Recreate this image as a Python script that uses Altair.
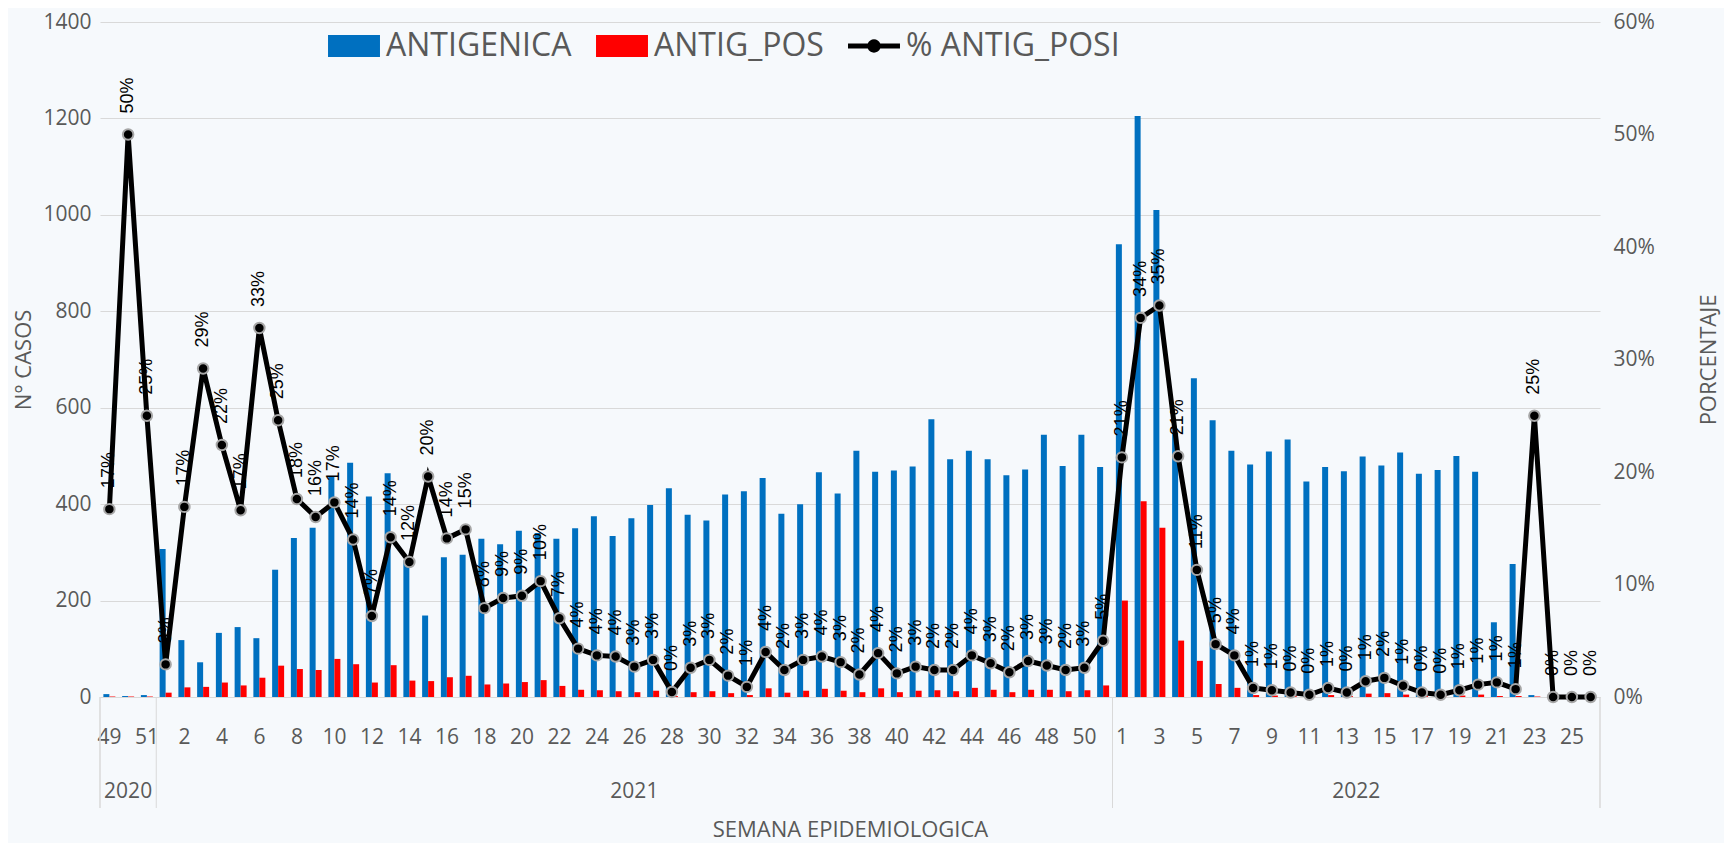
import altair as alt
import pandas as pd

# ---------------- data ----------------
WEEKS_2020 = [49, 50, 51]
WEEKS_2021 = [1, 2, 3, 4, 5, 6, 7, 8, 9, 10, 11, 12, 13, 14, 15, 16, 17, 18, 19, 20,
              21, 22, 23, 24, 25, 26, 27, 28, 29, 30, 31, 32, 33, 34, 35, 36, 37, 38, 39, 40,
              41, 42, 43, 44, 45, 46, 47, 48, 49, 50, 51]
WEEKS_2022 = [1, 2, 3, 4, 5, 6, 7, 8, 9, 10, 11, 12, 13, 14, 15, 16, 17, 18, 19, 20,
              21, 22, 23, 24, 25, 26]
YEARS = ["2020", "2021", "2022"]

ANTIGENICA = [6, 2, 4,
              307, 118, 72, 133, 145, 122, 264, 330, 351, 457,
              486, 416, 464, 283, 169, 290, 295, 328, 317, 345,
              340, 328, 350, 375, 334, 371, 398, 433, 378, 366,
              420, 427, 454, 380, 400, 466, 422, 511, 467, 470,
              478, 576, 493, 511, 493, 460, 472, 544, 479, 544,
              477,
              939, 1205, 1010, 548, 661, 574, 511, 482, 509, 534,
              447, 477, 468, 499, 480, 507, 463, 471, 500, 467,
              155, 276, 4, 0, 0, 0]

ANTIG_POS = [1, 1, 1,
             9, 20, 21, 30, 24, 40, 65, 58, 56, 79,
             68, 30, 66, 34, 33, 41, 44, 26, 28, 31,
             35, 23, 15, 14, 12, 10, 13, 2, 10, 12,
             8, 4, 18, 9, 13, 17, 13, 10, 18, 10,
             13, 14, 12, 19, 15, 10, 15, 15, 12, 14,
             24,
             200, 406, 351, 117, 75, 27, 19, 4, 3, 2,
             1, 4, 2, 7, 8, 5, 2, 1, 3, 5,
             2, 2, 1, 0, 0, 0]

PCT_ANTIG_POSI = [16.7, 50.0, 25.0,
                  2.9, 16.9, 29.2, 22.4, 16.6, 32.8, 24.6, 17.6, 16.0, 17.3,
                  14.0, 7.2, 14.2, 12.0, 19.6, 14.1, 14.9, 7.9, 8.8, 9.0,
                  10.3, 7.0, 4.3, 3.7, 3.6, 2.7, 3.3, 0.45, 2.6, 3.3,
                  1.9, 0.9, 4.0, 2.4, 3.3, 3.6, 3.1, 2.0, 3.9, 2.1,
                  2.7, 2.4, 2.4, 3.7, 3.0, 2.2, 3.2, 2.8, 2.4, 2.6,
                  5.0,
                  21.3, 33.7, 34.8, 21.4, 11.3, 4.7, 3.7, 0.8, 0.6, 0.4,
                  0.2, 0.8, 0.4, 1.4, 1.7, 1.0, 0.4, 0.2, 0.6, 1.1,
                  1.3, 0.7, 25.0, 0.0, 0.0, 0.0]

SERIES = ["ANTIGENICA", "ANTIG_POS", "% ANTIG_POSI"]
COLORS = ["#0070C0", "#FF0000", "#000000"]

# ---------------- tables ----------------
cats = []
for yr, wks in zip(YEARS, [WEEKS_2020, WEEKS_2021, WEEKS_2022]):
    for w in wks:
        cats.append(f"{yr}|{w}")
n = len(cats)

bars_df = pd.DataFrame({
    "cat": cats + cats,
    "serie": [SERIES[0]] * n + [SERIES[1]] * n,
    "value": ANTIGENICA + ANTIG_POS,
})
line_df = pd.DataFrame({"cat": cats, "pct": [p / 100 for p in PCT_ANTIG_POSI]})

year_mid_df = pd.DataFrame({"cat": [f"2020|{WEEKS_2020[1]}", f"2021|{WEEKS_2021[25]}"],
                            "year": ["2020", "2021"]})
year_edge_df = pd.DataFrame({"cat": [f"2022|{WEEKS_2022[13]}"], "year": ["2022"]})
sep_df = pd.DataFrame({"cat": [f"2021|{WEEKS_2021[0]}", f"2022|{WEEKS_2022[0]}"]})
legend_df = pd.DataFrame({"serie": SERIES})

# ---------------- layout ----------------
W, H = 1500, 675
GRAY = "#595959"
FONT = "Open Sans"
P_IN, P_OUT = 0.36, 0.18
STEP = W / (n - P_IN + 2 * P_OUT)
HALF_GAP = STEP * P_IN / 2

x_scale = alt.Scale(domain=cats, paddingInner=P_IN, paddingOuter=P_OUT)
x_axis = alt.Axis(values=cats[::2], labelExpr="split(datum.value, '|')[1]",
                  labelAngle=0, ticks=False, grid=False, domain=True,
                  domainColor="#D9D9D9", domainWidth=1, labelFont=FONT,
                  labelFontSize=21, labelColor=GRAY, labelPadding=29,
                  labelOverlap=False, labelBaseline="top", labelAlign="center",
                  title="SEMANA EPIDEMIOLOGICA", titleFont=FONT, titleFontSize=22,
                  titleFontWeight="normal", titleColor=GRAY, titleY=132,
                  titleX=W / 2, titleAlign="center", titleBaseline="middle")


def xenc(**kw):
    return alt.X("cat:N", scale=x_scale, axis=x_axis, **kw)


color_scale = alt.Scale(domain=SERIES, range=COLORS)
RECT = "M-1,-0.42H1V0.42H-1Z"
LINEDOT = "M-1,-0.1H-0.24A0.26,0.26,0,0,1,0.24,-0.1H1V0.1H0.24A0.26,0.26,0,0,1,-0.24,0.1H-1Z"
shape_scale = alt.Scale(domain=SERIES, range=[RECT, RECT, LINEDOT])


def make_legend():
    return alt.Legend(title=None, orient="none", legendX=228, legendY=-2,
                      direction="horizontal", symbolSize=2700, symbolOpacity=1,
                      symbolStrokeWidth=0, labelFont=FONT, labelFontSize=32,
                      labelColor=GRAY, labelOffset=6, columnPadding=24,
                      labelLimit=500, padding=0)


bars = alt.Chart(bars_df).mark_bar().encode(
    x=xenc(),
    xOffset=alt.XOffset("serie:N", sort=SERIES[:2],
                        scale=alt.Scale(paddingInner=0, paddingOuter=0)),
    y=alt.Y("value:Q",
            scale=alt.Scale(domain=[0, 1400], nice=False),
            axis=alt.Axis(values=[0, 200, 400, 600, 800, 1000, 1200, 1400],
                          format="d", grid=True, gridColor="#D9D9D9", domain=False,
                          ticks=False, labelFont=FONT, labelFontSize=21,
                          labelColor=GRAY, labelPadding=9, title="N° CASOS",
                          titleFont=FONT, titleFontSize=22, titleFontWeight="normal",
                          titleColor=GRAY, titleAngle=270, titleX=-77, titleY=H / 2,
                          titleAlign="center", titleBaseline="middle")),
    color=alt.Color("serie:N", scale=color_scale, legend=make_legend()),
)

seps = alt.Chart(sep_df).mark_rule(color="#D9D9D9", strokeWidth=1).encode(
    x=xenc(bandPosition=0), xOffset=alt.value(-HALF_GAP),
    y=alt.value(H), y2=alt.value(H + 111))
frame = alt.Chart(sep_df).mark_rule(color="#D9D9D9", strokeWidth=1).encode(
    x=alt.value(0), y=alt.value(H), y2=alt.value(H + 111))
frame2 = alt.Chart(sep_df).mark_rule(color="#D9D9D9", strokeWidth=1).encode(
    x=alt.value(W), y=alt.value(H), y2=alt.value(H + 111))

year_txt = alt.Chart(year_mid_df).mark_text(font=FONT, fontSize=21, color=GRAY,
                                             baseline="middle", align="center").encode(
    x=xenc(), y=alt.value(H + 95), text="year:N")
year_txt2 = alt.Chart(year_edge_df).mark_text(font=FONT, fontSize=21, color=GRAY,
                                               baseline="middle", align="center",
                                               dx=-HALF_GAP).encode(
    x=xenc(bandPosition=0), y=alt.value(H + 95), text="year:N")

Yp = alt.Y("pct:Q", scale=alt.Scale(domain=[0, 0.6], nice=False),
           axis=alt.Axis(orient="right", values=[0, 0.1, 0.2, 0.3, 0.4, 0.5, 0.6],
                         format=".0%", grid=False, domain=False, ticks=False,
                         labelFont=FONT, labelFontSize=21, labelColor=GRAY,
                         labelPadding=13, title="PORCENTAJE", titleFont=FONT,
                         titleFontSize=22, titleFontWeight="normal", titleColor=GRAY,
                         titleAngle=270, titleX=108, titleY=H / 2,
                         titleAlign="center", titleBaseline="middle"))

line = alt.Chart(line_df).mark_line(color="black", strokeWidth=5).encode(x=xenc(), y=Yp)
pts = alt.Chart(line_df).mark_point(filled=True, fill="black", stroke="#A6A6A6",
                                    strokeWidth=2, size=110, opacity=1).encode(
    x=xenc(), y=Yp)
lbl = alt.Chart(line_df).mark_text(angle=270, align="left", baseline="middle", dx=21,
                                   font="Liberation Sans", fontSize=18,
                                   color="black").encode(
    x=xenc(), y=Yp, text=alt.Text("pct:Q", format=".0%"))
line_layer = alt.layer(line, pts, lbl)

legend_layer = alt.Chart(legend_df).mark_point(filled=True, opacity=0).encode(
    x=alt.value(0), y=alt.value(0),
    color=alt.Color("serie:N", scale=color_scale, legend=make_legend()),
    shape=alt.Shape("serie:N", scale=shape_scale, legend=make_legend()),
)

chart = alt.layer(
    bars, seps, frame, frame2, year_txt, year_txt2, line_layer, legend_layer
).resolve_scale(y="independent").properties(
    width=W, height=H,
    autosize=alt.AutoSizeParams(type="none"),
    padding={"left": 92, "top": 14, "right": 124, "bottom": 146},
    background="#F6F9FC",
).configure_view(stroke=None)

chart.save("out.html", embed_options={"renderer": "svg", "actions": False})
